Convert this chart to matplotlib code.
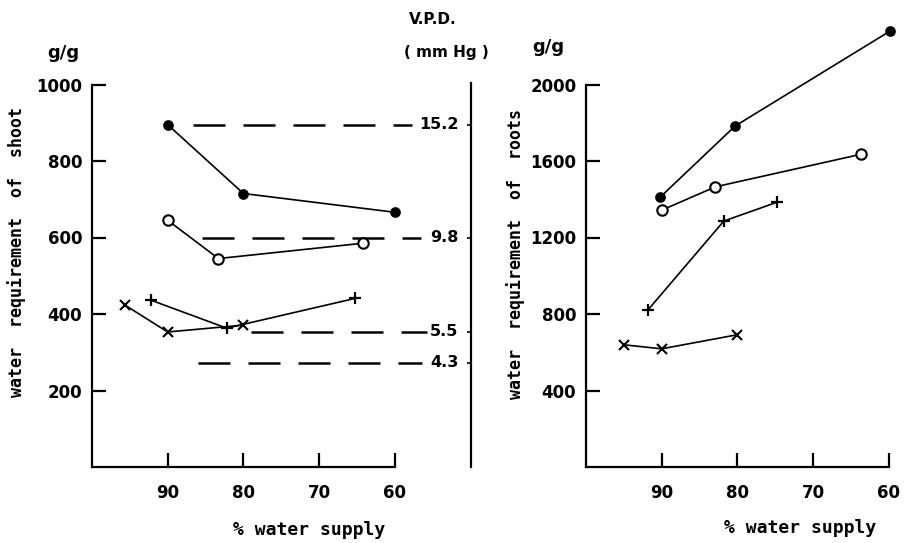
import matplotlib
matplotlib.use("Agg")
import matplotlib.pyplot as plt

# ---------------- data ----------------
# left panel: water requirement of shoot (g/g)
shoot_filled_x = [90, 80, 60]
shoot_filled_y = [895, 715, 666]
shoot_open_x = [90, 83.3, 64.2]
shoot_open_y = [645, 545, 585]
shoot_plus_x = [92.2, 82.2, 65.2]
shoot_plus_y = [436, 363, 441]
shoot_cross_x = [95.7, 90, 80]
shoot_cross_y = [424, 353, 371]

# V.P.D. reference levels (dashed lines)
vpd_labels = ["15.2", "9.8", "5.5", "4.3"]
vpd_y = [895, 600, 353, 272]
vpd_start = [86.6, 85.5, 79.0, 86.0]
vpd_end = [57.7, 56.6, 55.8, 56.4]

# right panel: water requirement of roots (g/g)
root_filled_x = [90.2, 80.3, 59.9]
root_filled_y = [1411, 1783, 2278]
root_open_x = [90, 82.9, 63.7]
root_open_y = [1343, 1465, 1635]
root_plus_x = [91.8, 81.8, 74.8]
root_plus_y = [822, 1286, 1384]
root_cross_x = [95, 90, 80.1]
root_cross_y = [639, 618, 691]

x_ticks = [90, 80, 70, 60]
shoot_yticks = [200, 400, 600, 800, 1000]
root_yticks = [400, 800, 1200, 1600, 2000]

# ---------------- figure ----------------
W, H = 908, 543
fig = plt.figure(figsize=(W / 100, H / 100), dpi=100)
FONT = "DejaVu Sans"
MONO = "DejaVu Sans Mono"
TICKFS = 12
LW_AX = 1.6
LW_DATA = 1.2

ax1 = fig.add_axes([92 / W, (H - 467) / H, 378.5 / W, (467 - 84.5) / H])
ax2 = fig.add_axes([586 / W, (H - 467) / H, 318 / W, (467 - 84.5) / H])

def style_axis(ax, ylim, yticks, xlim):
    ax.set_xlim(*xlim)
    ax.set_ylim(*ylim)
    ax.set_xticks(x_ticks)
    ax.set_yticks(yticks)
    ax.spines["top"].set_visible(False)
    ax.spines["left"].set_bounds(0, ylim[1])
    ax.spines["bottom"].set_bounds(100, 60)
    for s in ("left", "bottom", "right"):
        ax.spines[s].set_linewidth(LW_AX)
    ax.tick_params(axis="both", direction="in", length=10, width=LW_AX,
                   labelsize=TICKFS)
    ax.tick_params(axis="x", pad=12)
    ax.tick_params(axis="y", pad=7)
    for lab in ax.get_xticklabels() + ax.get_yticklabels():
        lab.set_fontweight("bold")
        lab.set_family(FONT)

def series(ax, xs, ys, marker, mfc, ms, mew=1.2):
    ax.plot(xs, ys, color="black", lw=LW_DATA, marker=marker, ms=ms,
            mfc=mfc, mec="black", mew=mew, clip_on=False, zorder=3)

# ---- left panel ----
style_axis(ax1, (0, 1000), shoot_yticks, (100, 50))
ax1.spines["right"].set_bounds(0, 1005)
series(ax1, shoot_filled_x, shoot_filled_y, "o", "black", 6.5)
series(ax1, shoot_open_x, shoot_open_y, "o", "white", 7.5, 1.5)
series(ax1, shoot_plus_x, shoot_plus_y, "+", "none", 8, 1.6)
series(ax1, shoot_cross_x, shoot_cross_y, "x", "none", 6.5, 1.5)

for lab, y, x0, x1 in zip(vpd_labels, vpd_y, vpd_start, vpd_end):
    ax1.plot([x0, x1], [y, y], color="black", lw=1.8,
             dashes=(12.8, 7.2), zorder=2)
    ax1.text(51.6, y, lab, ha="right", va="center", fontsize=11.5,
             family=FONT, fontweight="bold")

twin = ax1.twinx()
twin.set_ylim(0, 1000)
twin.set_yticks(vpd_y)
twin.tick_params(axis="y", direction="in", length=3, width=1.2,
                 labelright=False)
for s in twin.spines.values():
    s.set_visible(False)

# ---- right panel ----
style_axis(ax2, (0, 2000), root_yticks, (100, 58))
ax2.spines["right"].set_visible(False)
series(ax2, root_filled_x, root_filled_y, "o", "black", 6.5)
series(ax2, root_open_x, root_open_y, "o", "white", 7.5, 1.5)
series(ax2, root_plus_x, root_plus_y, "+", "none", 8, 1.6)
series(ax2, root_cross_x, root_cross_y, "x", "none", 6.5, 1.5)

# ---- text ----
def ftext(xpx, ypx, s, family=FONT, **kw):
    fig.text(xpx / W, 1 - ypx / H, s, ha="center", va="center",
             family=family, fontweight="bold", **kw)

ftext(433, 20, "V.P.D.", fontsize=11)
ftext(446, 53, "( mm Hg )", fontsize=11)
ftext(63, 53, "g/g", fontsize=13)
ftext(548, 47, "g/g", fontsize=13)
ftext(17, 252, "water  requirement  of  shoot", family=MONO, fontsize=12,
      rotation=90)
ftext(516, 254, "water  requirement  of  roots", family=MONO, fontsize=12,
      rotation=90)
ftext(309, 530, "% water supply", family=MONO, fontsize=13)
ftext(800, 528, "% water supply", family=MONO, fontsize=13)

fig.savefig("out.png", dpi=100)
